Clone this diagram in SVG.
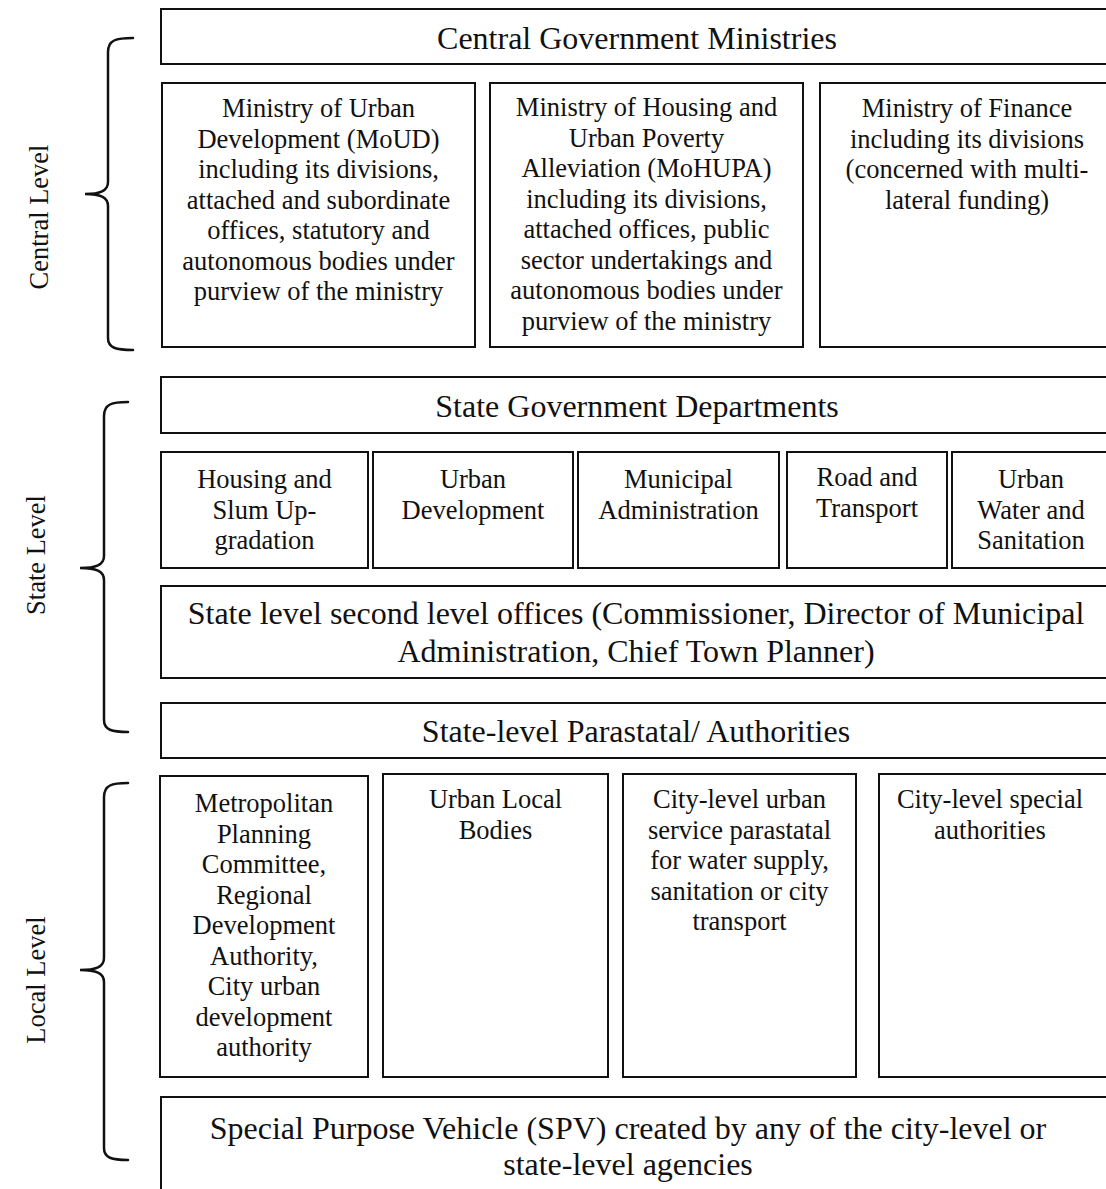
<svg xmlns="http://www.w3.org/2000/svg" width="1106" height="1189" viewBox="0 0 1106 1189">
<style>
.box{fill:#fff;stroke:#111;stroke-width:2}
.brace{fill:none;stroke:#111;stroke-width:2.5;stroke-linecap:round}
text{font-family:"Liberation Serif","Times New Roman",serif;fill:#111;text-anchor:middle}
.t{font-size:26.5px}
.h{font-size:32px}
.lvl{font-size:26.5px}
</style>
<rect width="1106" height="1189" fill="#fff"/>
<g id="braces">
<path class="brace" d="M133,38 C116,38 108,40 108,52 L108,182 C108,191 100,194 85,194 C100,194 108,197 108,206 L108,338 C108,348 116,350 133,350"/>
<path class="brace" d="M128,402 C112,402 104,404 104,416 L104,556 C104,565 96,568 80,568 C96,568 104,571 104,580 L104,720 C104,730 112,732 128,732"/>
<path class="brace" d="M128,783 C112,783 104,785 104,797 L104,958 C104,967 96,970 80,970 C96,970 104,973 104,982 L104,1148 C104,1158 112,1160 128,1160"/>
</g>
<g id="labels">
<text class="lvl" transform="translate(48,217) rotate(-90)">Central Level</text>
<text class="lvl" transform="translate(45,555) rotate(-90)">State Level</text>
<text class="lvl" transform="translate(45,980) rotate(-90)">Local Level</text>
</g>
<g id="central-gov"><rect class="box" x="161" y="9" width="952" height="55"/><text class="h" x="637" y="49">Central Government Ministries</text></g>
<g id="moud"><rect class="box" x="162" y="83" width="313" height="264"/>
<text class="t" x="318.5" y="117">Ministry of Urban</text>
<text class="t" x="318.5" y="147.5">Development (MoUD)</text>
<text class="t" x="318.5" y="178">including its divisions,</text>
<text class="t" x="318.5" y="208.5">attached and subordinate</text>
<text class="t" x="318.5" y="239">offices, statutory and</text>
<text class="t" x="318.5" y="269.5">autonomous bodies under</text>
<text class="t" x="318.5" y="300">purview of the ministry</text></g>
<g id="mohupa"><rect class="box" x="490" y="83" width="313" height="264"/>
<text class="t" x="646.5" y="116">Ministry of Housing and</text>
<text class="t" x="646.5" y="146.5">Urban Poverty</text>
<text class="t" x="646.5" y="177">Alleviation (MoHUPA)</text>
<text class="t" x="646.5" y="207.5">including its divisions,</text>
<text class="t" x="646.5" y="238">attached offices, public</text>
<text class="t" x="646.5" y="268.5">sector undertakings and</text>
<text class="t" x="646.5" y="299">autonomous bodies under</text>
<text class="t" x="646.5" y="329.5">purview of the ministry</text></g>
<g id="finance"><rect class="box" x="820" y="83" width="294" height="264"/>
<text class="t" x="967" y="117">Ministry of Finance</text>
<text class="t" x="967" y="147.5">including its divisions</text>
<text class="t" x="967" y="178">(concerned with multi-</text>
<text class="t" x="967" y="208.5">lateral funding)</text></g>
<g id="state-gov"><rect class="box" x="161" y="377" width="952" height="56"/><text class="h" x="637" y="417">State Government Departments</text></g>
<g id="housing"><rect class="box" x="161" y="452" width="207" height="116"/>
<text class="t" x="264.5" y="488">Housing and</text><text class="t" x="264.5" y="518.5">Slum Up-</text><text class="t" x="264.5" y="549">gradation</text></g>
<g id="urban-dev"><rect class="box" x="373" y="452" width="200" height="116"/>
<text class="t" x="473" y="488">Urban</text><text class="t" x="473" y="518.5">Development</text></g>
<g id="municipal"><rect class="box" x="578" y="452" width="201" height="116"/>
<text class="t" x="678.5" y="488">Municipal</text><text class="t" x="678.5" y="518.5">Administration</text></g>
<g id="road"><rect class="box" x="787" y="452" width="160" height="116"/>
<text class="t" x="867" y="486">Road and</text><text class="t" x="867" y="516.5">Transport</text></g>
<g id="water"><rect class="box" x="952" y="452" width="158" height="116"/>
<text class="t" x="1031" y="488">Urban</text><text class="t" x="1031" y="518.5">Water and</text><text class="t" x="1031" y="549">Sanitation</text></g>
<g id="second-level"><rect class="box" x="161" y="586" width="952" height="92"/>
<text class="h" x="636" y="624">State level second level offices (Commissioner, Director of Municipal</text>
<text class="h" x="636" y="662">Administration, Chief Town Planner)</text></g>
<g id="parastatal"><rect class="box" x="161" y="703" width="952" height="55"/><text class="h" x="636" y="742">State-level Parastatal/ Authorities</text></g>
<g id="metro"><rect class="box" x="160" y="776" width="208" height="301"/>
<text class="t" x="264" y="812">Metropolitan</text>
<text class="t" x="264" y="842.5">Planning</text>
<text class="t" x="264" y="873">Committee,</text>
<text class="t" x="264" y="903.5">Regional</text>
<text class="t" x="264" y="934">Development</text>
<text class="t" x="264" y="964.5">Authority,</text>
<text class="t" x="264" y="995">City urban</text>
<text class="t" x="264" y="1025.5">development</text>
<text class="t" x="264" y="1056">authority</text></g>
<g id="ulb"><rect class="box" x="383" y="774" width="225" height="303"/>
<text class="t" x="495.5" y="808">Urban Local</text><text class="t" x="495.5" y="838.5">Bodies</text></g>
<g id="city-parastatal"><rect class="box" x="623" y="774" width="233" height="303"/>
<text class="t" x="739.5" y="808">City-level urban</text>
<text class="t" x="739.5" y="838.5">service parastatal</text>
<text class="t" x="739.5" y="869">for water supply,</text>
<text class="t" x="739.5" y="899.5">sanitation or city</text>
<text class="t" x="739.5" y="930">transport</text></g>
<g id="city-special"><rect class="box" x="879" y="774" width="234" height="303"/>
<text class="t" x="990" y="808">City-level special</text><text class="t" x="990" y="838.5">authorities</text></g>
<g id="spv"><rect class="box" x="161" y="1097" width="952" height="100"/>
<text class="h" x="628" y="1139">Special Purpose Vehicle (SPV) created by any of the city-level or</text>
<text class="h" x="628" y="1175">state-level agencies</text></g>
<g id="connectors"></g>
</svg>
